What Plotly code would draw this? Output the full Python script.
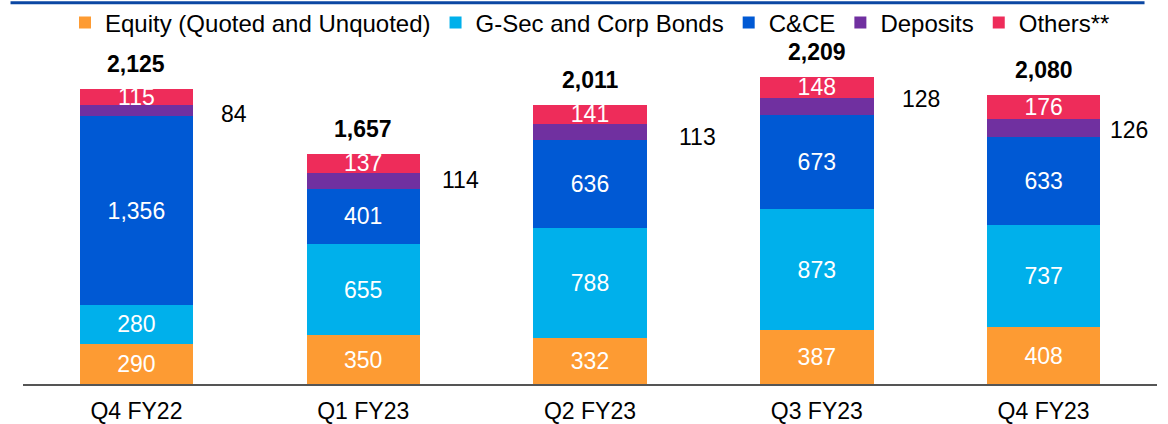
import plotly.graph_objects as go

quarters = ["Q4 FY22", "Q1 FY23", "Q2 FY23", "Q3 FY23", "Q4 FY23"]
equity = [290, 350, 332, 387, 408]
gsec = [280, 655, 788, 873, 737]
cce = [1356, 401, 636, 673, 633]
deposits = [84, 114, 113, 128, 126]
others = [115, 137, 141, 148, 176]
totals = [2125, 1657, 2011, 2209, 2080]

FONT = "Liberation Sans, Arial, sans-serif"

# hand placed label offsets for the deposits values (pixels)
dep_dx = [98, 97, 107, 104, 85]
dep_dy = [-3, 1, -5, 7, -2]

series = [
    ("Equity (Quoted and Unquoted)", equity, "#FD9B33", True),
    ("G-Sec and Corp Bonds", gsec, "#00B0EB", True),
    ("C&CE", cce, "#0059D4", True),
    ("Deposits", deposits, "#7030A0", False),
    ("Others**", others, "#EE2C5A", True),
]

fig = go.Figure()
for name, vals, color, inside in series:
    fig.add_trace(go.Bar(
        x=quarters, y=vals, name=name,
        marker=dict(color=color, line=dict(width=0)),
        text=[f"{v:,}" for v in vals] if inside else None,
        textposition="inside", insidetextanchor="middle",
        textangle=0, constraintext="none",
        textfont=dict(family=FONT, size=23, color="white"),
    ))

# totals above the bars
for q, t in zip(quarters, totals):
    fig.add_annotation(x=q, y=t, text=f"<b>{t:,}</b>", showarrow=False,
                       yanchor="middle", yshift=25,
                       font=dict(family=FONT, size=23, color="black"))

# deposits values to the right of each bar
for i, q in enumerate(quarters):
    mid = equity[i] + gsec[i] + cce[i] + deposits[i] / 2
    fig.add_annotation(x=q, y=mid, text=str(deposits[i]), showarrow=False,
                       xanchor="center", yanchor="middle",
                       xshift=dep_dx[i], yshift=dep_dy[i],
                       font=dict(family=FONT, size=23, color="black"))

# dark blue rule along the top
fig.add_shape(type="line", xref="paper", yref="paper",
              x0=-0.011, x1=0.989, y0=1.184, y1=1.184,
              line=dict(color="#0B47A3", width=3))

fig.update_layout(
    barmode="stack", bargap=0.5,
    width=1168, height=424,
    margin=dict(l=23, r=11, t=62, b=40),
    paper_bgcolor="white", plot_bgcolor="white",
    font=dict(family=FONT, size=23, color="black"),
    showlegend=True,
    legend=dict(orientation="h", x=0.5, xanchor="center",
                yref="container", y=0.946, yanchor="middle",
                font=dict(family=FONT, size=24, color="black"),
                traceorder="normal", itemwidth=30, bgcolor="rgba(0,0,0,0)"),
    uniformtext=dict(minsize=23, mode="show"),
)
fig.update_xaxes(showline=True, linecolor="#555555", linewidth=1.5,
                 showgrid=False, ticks="", ticklabelstandoff=6, automargin=False,
                 tickfont=dict(family=FONT, size=23, color="black"))
fig.update_yaxes(range=[0, 2317], visible=False, showgrid=False, zeroline=False)

fig.write_html("out.html", config={"displayModeBar": False},
               post_script="document.body.style.margin='0';")
